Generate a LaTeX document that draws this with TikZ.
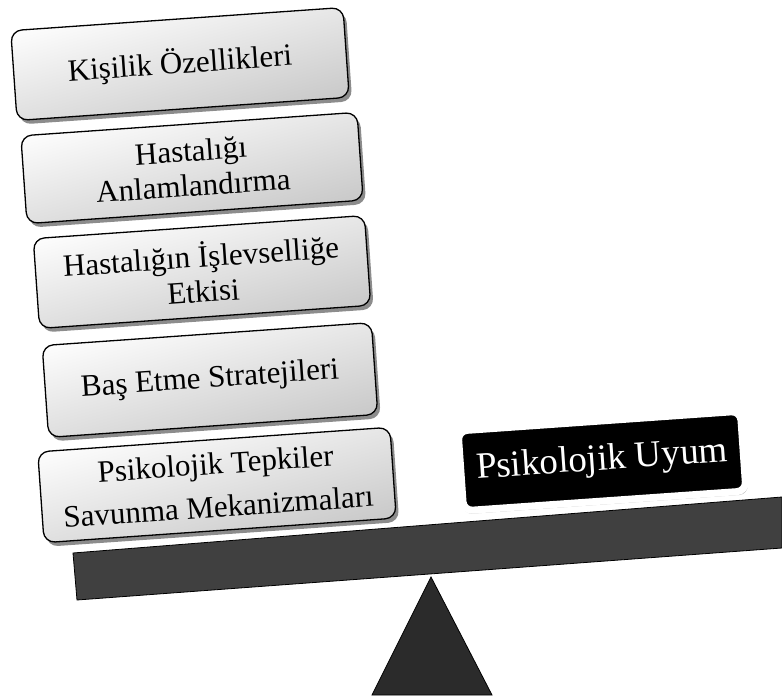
\documentclass[tikz,border=0pt]{standalone}
\usepackage{fontspec}
\setmainfont{Liberation Serif}
\usetikzlibrary{shadows}
\definecolor{beam}{HTML}{404040}
\definecolor{pivotfill}{HTML}{2B2B2B}
\tikzset{
  factor/.style={draw=black, line width=1.3pt, rounded corners=11pt,
    top color=white, bottom color=black!22, shading angle=15,
    align=center, rotate=4, inner sep=2pt,
    font=\fontsize{31}{35}\selectfont,
    drop shadow={shadow xshift=3pt, shadow yshift=-4pt, opacity=0.45, fill=black}},
  outcome/.style={draw=white, line width=7pt, fill=black, text=white,
    rounded corners=9pt, rotate=4, align=center,
    minimum width=283pt, minimum height=80pt,
    font=\fontsize{37}{40}\selectfont,
    drop shadow={shadow xshift=1pt, shadow yshift=-3pt, shadow scale=1.01,
      opacity=0.25, fill=black}},
  plank/.style={fill=beam, draw=black, line width=0.8pt},
  fulcrum/.style={fill=pivotfill, draw=black, line width=0.8pt}
}
\begin{document}
\begin{tikzpicture}[x=1pt, y=-1pt]
  \useasboundingbox (0,0) rectangle (782,700);

  % seesaw beam and pivot
  \draw[plank] (73,553) coordinate (bl) -- (782,497) coordinate (br)
    -- (782,548) -- (77,600) -- cycle;
  \draw[fulcrum] (431,577) coordinate (apex) -- (492,695) coordinate (bR)
    -- (372,695) coordinate (bL) -- cycle;

  % stacked factors on the left side
  \node[factor, minimum width=333pt, minimum height=90pt] (f1) at (180,64)
    {Kişilik Özellikleri};
  \node[factor, minimum width=337pt, minimum height=88pt] (f2) at (192,168)
    {Hastalığı\\Anlamlandırma};
  \node[factor, minimum width=332pt, minimum height=90pt] (f3) at (202,272)
    {Hastalığın İşlevselliğe\\Etkisi};
  \node[factor, minimum width=330pt, minimum height=92pt] (f4) at (210,380)
    {Baş Etme Stratejileri};
  \node[factor, minimum width=353pt, minimum height=91pt,
    font=\fontsize{31}{43}\selectfont] (f5) at (217,485)
    {Psikolojik Tepkiler\\Savunma Mekanizmaları};

  % outcome on the right side
  \node[outcome] (out) at (602,461) {Psikolojik Uyum};
\end{tikzpicture}
\end{document}
